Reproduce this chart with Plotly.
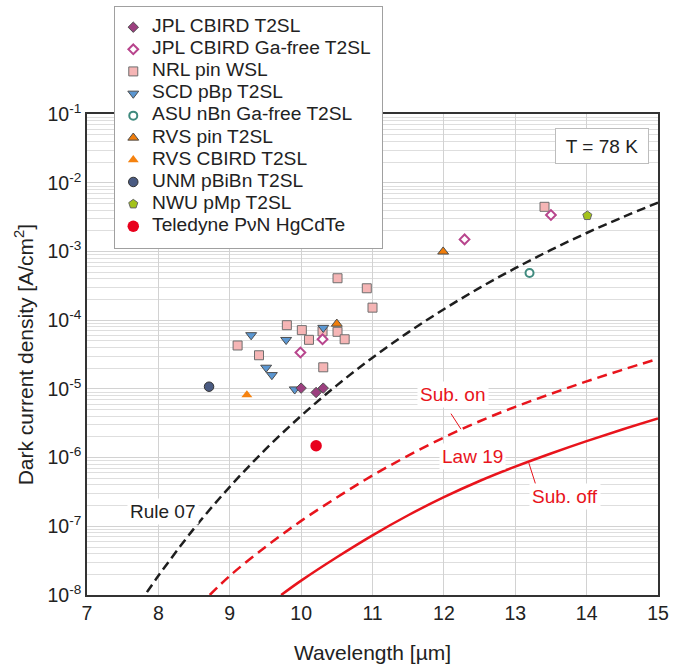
import plotly.graph_objects as go

# ---------------- data ----------------
jpl_x = [10.0, 10.21, 10.31]
jpl_y = [1.03e-5, 8.9e-6, 1.03e-5]

jplgf_x = [9.99, 10.30, 12.29, 13.50]
jplgf_y = [3.4e-5, 5.3e-5, 1.51e-3, 3.42e-3]

nrl_x = [13.41, 10.51, 10.92, 11.00, 9.80, 10.01, 10.30, 10.51, 10.11, 10.61, 9.11, 9.41, 10.31]
nrl_y = [4.5e-3, 4.1e-4, 2.93e-4, 1.53e-4, 8.5e-5, 7.2e-5, 6.9e-5, 6.8e-5, 5.2e-5, 5.3e-5, 4.3e-5, 3.1e-5, 2.07e-5]

scd_x = [9.30, 9.79, 10.31, 9.51, 9.59, 9.91]
scd_y = [6.1e-5, 5.2e-5, 7.8e-5, 2.05e-5, 1.6e-5, 9.9e-6]

asu_x = [13.20]
asu_y = [4.9e-4]

rvs_pin_x = [10.50, 11.99]
rvs_pin_y = [8.9e-5, 1.0e-3]

rvs_cbird_x = [9.24]
rvs_cbird_y = [8.2e-6]

unm_x = [8.71]
unm_y = [1.08e-5]

nwu_x = [14.01]
nwu_y = [3.34e-3]

tel_x = [10.21]
tel_y = [1.49e-6]

# curves
rule07_x = [7.84, 8.0, 8.5, 9.0, 9.5, 10.0, 10.5, 11.0, 11.5, 12.0, 12.5, 13.0, 13.5, 14.0, 14.5, 15.0]
rule07_y = [1.1e-8, 1.9e-8, 9.3e-8, 3.76e-7, 1.32e-6, 4.07e-6, 1.13e-5, 2.86e-5, 6.68e-5,
            1.45e-4, 2.97e-4, 5.74e-4, 1.06e-3, 1.87e-3, 3.16e-3, 5.18e-3]

subon_x = [8.72, 9.0, 9.5, 10.0, 10.5, 11.0, 11.5, 12.0, 12.5, 13.0, 13.5, 14.0, 14.5, 15.0]
subon_y = [1.0e-8, 1.9e-8, 5.0e-8, 1.2e-7, 2.63e-7, 5.5e-7, 1.07e-6, 1.97e-6, 3.39e-6,
           5.5e-6, 8.5e-6, 1.29e-5, 1.9e-5, 2.75e-5]

suboff_x = [9.72, 10.0, 10.5, 11.0, 11.5, 12.0, 12.5, 13.0, 13.5, 14.0, 14.5, 15.0]
suboff_y = [1.0e-8, 1.62e-8, 3.55e-8, 7.4e-8, 1.45e-7, 2.66e-7, 4.57e-7, 7.4e-7,
            1.15e-6, 1.74e-6, 2.57e-6, 3.72e-6]

x_ticks = [7, 8, 9, 10, 11, 12, 13, 14, 15]
y_ticks = [1e-8, 1e-7, 1e-6, 1e-5, 1e-4, 1e-3, 1e-2, 1e-1]
y_ticktext = ["10<sup>-8</sup>", "10<sup>-7</sup>", "10<sup>-6</sup>", "10<sup>-5</sup>",
              "10<sup>-4</sup>", "10<sup>-3</sup>", "10<sup>-2</sup>", "10<sup>-1</sup>"]

legend_names = ["JPL CBIRD T2SL", "JPL CBIRD Ga-free T2SL", "NRL pin WSL", "SCD pBp T2SL",
                "ASU nBn Ga-free T2SL", "RVS pin T2SL", "RVS CBIRD T2SL", "UNM pBiBn T2SL",
                "NWU pMp T2SL", "Teledyne P\u03bdN HgCdTe"]

FONT = "Liberation Sans, Arial, sans-serif"
RED = "#e8141c"
EDGE = "#4d4d4d"

# series: (x, y, legend name, symbol, size, fill, edge colour, edge width) in drawing order
series = [
    (nrl_x, nrl_y, legend_names[2], "square", 9, "#f5b5b5", "#6e6e6e", 1),
    (scd_x, scd_y, legend_names[3], "triangle-down", 9.5, "#5b97d2", EDGE, 1),
    (jpl_x, jpl_y, legend_names[0], "diamond", 8, "#9c3f7f", EDGE, 1),
    (jplgf_x, jplgf_y, legend_names[1], "diamond", 7.5, "#ffffff", "#b8458d", 2),
    (asu_x, asu_y, legend_names[4], "circle", 8, "#ffffff", "#3f8a7e", 2),
    (rvs_pin_x, rvs_pin_y, legend_names[5], "triangle-up", 9.5, "#f07d0a", EDGE, 1),
    (rvs_cbird_x, rvs_cbird_y, legend_names[6], "triangle-up", 9.5, "#f5820f", "#f5820f", 0),
    (unm_x, unm_y, legend_names[7], "circle", 9.5, "#4a5b82", "#333333", 1),
    (nwu_x, nwu_y, legend_names[8], "pentagon", 9.5, "#a3c21a", "#666666", 1),
    (tel_x, tel_y, legend_names[9], "circle", 11.5, "#e8001c", "#e8001c", 0),
]

fig = go.Figure()

# curves
fig.add_trace(go.Scatter(x=rule07_x, y=rule07_y, mode="lines", line_shape="spline",
                         line=dict(color="#1e1e1e", width=2.5, dash="9px,5px"),
                         showlegend=False, hoverinfo="skip"))
fig.add_trace(go.Scatter(x=subon_x, y=subon_y, mode="lines", line_shape="spline",
                         line=dict(color=RED, width=2.5, dash="10px,6px"),
                         showlegend=False, hoverinfo="skip"))
fig.add_trace(go.Scatter(x=suboff_x, y=suboff_y, mode="lines", line_shape="spline",
                         line=dict(color=RED, width=2.5),
                         showlegend=False, hoverinfo="skip"))

for sx, sy, name, sym, size, fill, lc, lw in series:
    mk = dict(symbol=sym, size=size, color=fill, line=dict(color=lc, width=lw))
    fig.add_trace(go.Scatter(x=sx, y=sy, mode="markers", name=name, marker=mk,
                             showlegend=False))
    # legend key drawn in the legend panel axes
    fig.add_trace(go.Scatter(x=[0.0685], y=[name], mode="markers", marker=mk,
                             xaxis="x2", yaxis="y2", showlegend=False, hoverinfo="skip"))

fig.add_trace(go.Scatter(x=[0.139] * len(legend_names), y=legend_names, text=legend_names,
                         mode="text", textposition="middle right", cliponaxis=False,
                         textfont=dict(family=FONT, size=19.2, color="#222"),
                         xaxis="x2", yaxis="y2", showlegend=False, hoverinfo="skip"))

# minor log grid values
minor_vals = []
for e in range(-8, -1):
    for k in range(2, 10):
        minor_vals.append(k * 10.0 ** e)

GRID = "#d2d2d2"
fig.update_layout(
    xaxis=dict(range=[7, 15], domain=[0, 1], tickvals=x_ticks, showgrid=True, gridcolor=GRID,
               gridwidth=1, showline=True, linecolor="#333333", linewidth=1.5, mirror=True,
               ticks="", zeroline=False, tickfont=dict(size=19.5, color="#222"),
               automargin=False,
               title=dict(text="Wavelength [\u00b5m]", font=dict(size=21, color="#222"),
                          standoff=22)),
    yaxis=dict(type="log", range=[-8, -1], domain=[0, 0.8147], tickvals=y_ticks,
               ticktext=y_ticktext, showgrid=True, gridcolor=GRID, gridwidth=1,
               minor=dict(tickmode="array", tickvals=minor_vals, showgrid=True,
                          gridcolor="#dedede", gridwidth=1, ticks=""),
               showline=True, linecolor="#333333", linewidth=1.5, mirror=True,
               ticks="", zeroline=False, tickfont=dict(size=19.5, color="#222"),
               automargin=False,
               title=dict(text="Dark current density [A/cm<sup>2</sup>]",
                          font=dict(size=21, color="#222"), standoff=8)),
    xaxis2=dict(domain=[0.049, 0.5166], range=[0, 1], anchor="y2", showgrid=False,
                showticklabels=False, ticks="", zeroline=False, showline=True,
                linecolor="#a0a0a0", linewidth=1, mirror=True, fixedrange=True,
                automargin=False),
    yaxis2=dict(domain=[0.58763, 0.99610], type="category", categoryorder="array",
                categoryarray=legend_names, range=[10.0, -0.9], anchor="x2",
                showgrid=False, showticklabels=False, ticks="", zeroline=False,
                showline=True, linecolor="#a0a0a0", linewidth=1, mirror=True,
                fixedrange=True, automargin=False),
)

# white panel behind the legend keys (hides the grid of the main plot)
fig.add_shape(type="rect", xref="x", yref="y", x0=7.392, x1=11.133, y0=-2.951, y1=-1,
              fillcolor="white", line=dict(width=0), layer="between")

ann_font = dict(family=FONT, size=19, color=RED)
fig.add_annotation(x=8.06, y=-6.789, text="Rule 07", showarrow=False,
                   font=dict(family=FONT, size=19, color="#222"), bgcolor="white", borderpad=2)
fig.add_annotation(x=12.13, y=-5.087, text="Sub. on", showarrow=False,
                   font=ann_font, bgcolor="white", borderpad=2)
fig.add_annotation(x=12.40, y=-5.984, text="Law 19", showarrow=False,
                   font=ann_font, bgcolor="white", borderpad=2)
fig.add_annotation(x=13.69, y=-6.566, text="Sub. off", showarrow=False,
                   font=ann_font, bgcolor="white", borderpad=2)
# leader lines
fig.add_annotation(x=12.24, y=-5.585, text="", showarrow=True, arrowhead=0,
                   arrowwidth=1, arrowcolor=RED, ax=-11, ay=-17)
fig.add_annotation(x=13.19, y=-6.076, text="", showarrow=True, arrowhead=0,
                   arrowwidth=1, arrowcolor=RED, ax=7, ay=22)
# temperature box
fig.add_annotation(x=14.21, y=-1.461, text="T = 78 K", showarrow=False,
                   font=dict(family=FONT, size=19, color="#222"), bgcolor="white",
                   bordercolor="#bdbdbd", borderwidth=1, width=90, height=32, borderpad=1)

fig.update_layout(
    width=689, height=664,
    margin=dict(l=87, r=31, t=5, b=69, autoexpand=False),
    paper_bgcolor="white", plot_bgcolor="white",
    font=dict(family=FONT, color="#222"),
    showlegend=False,
)

fig.write_html("out.html")
